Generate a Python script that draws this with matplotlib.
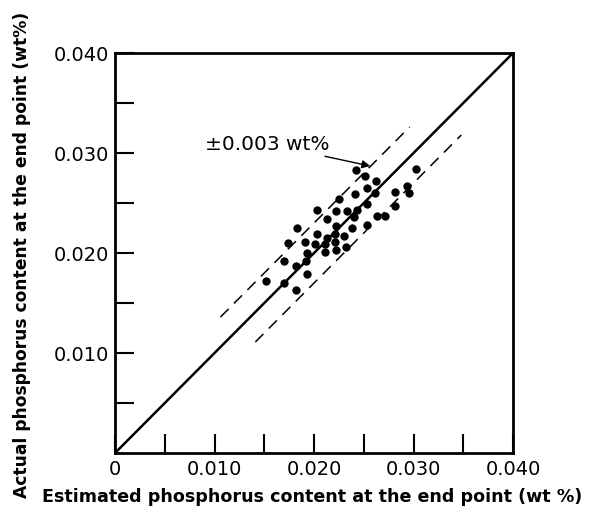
import matplotlib
matplotlib.use("Agg")
import matplotlib.pyplot as plt
import numpy as np

# Estimated (x) and actual (y) phosphorus content, wt%
estimated = [0.0242, 0.0251, 0.02625, 0.0302, 0.02535, 0.0241, 0.02615, 0.0225,
             0.0281, 0.0293, 0.0295, 0.02535, 0.0281, 0.0203, 0.0222, 0.0233,
             0.02435, 0.0240, 0.02135, 0.02635, 0.02715, 0.0222, 0.0238, 0.02535,
             0.01825, 0.0203, 0.02135, 0.0221, 0.0230, 0.0174, 0.0191, 0.02005,
             0.0211, 0.0221, 0.02325, 0.0211, 0.0222, 0.0193, 0.0170, 0.0192,
             0.0182, 0.0193, 0.0152, 0.0170, 0.0182]
actual = [0.0283, 0.0277, 0.0272, 0.0284, 0.0265, 0.0259, 0.0260, 0.0254,
          0.0261, 0.0267, 0.0260, 0.0249, 0.0247, 0.0243, 0.0242, 0.0242,
          0.0243, 0.0236, 0.0234, 0.0237, 0.0237, 0.0227, 0.0225, 0.0228,
          0.0225, 0.0219, 0.0215, 0.0219, 0.0217, 0.0210, 0.0211, 0.0209,
          0.0209, 0.0211, 0.0206, 0.0201, 0.0203, 0.0200, 0.0192, 0.0192,
          0.0187, 0.0179, 0.0172, 0.0170, 0.0163]

band = 0.003
upper_range = [0.0106, 0.0296]
lower_range = [0.0141, 0.0348]
x_ticks = [0, 0.010, 0.020, 0.030, 0.040]
x_tick_labels = ["0", "0.010", "0.020", "0.030", "0.040"]
y_ticks = [0.010, 0.020, 0.030, 0.040]
y_tick_labels = ["0.010", "0.020", "0.030", "0.040"]
minor_ticks = [0.005, 0.015, 0.025, 0.035]

fig = plt.figure(figsize=(5.92, 5.12), dpi=100)
ax = fig.add_axes([0.1943, 0.1152, 0.6723, 0.78125])

ax.plot([0, 0.04], [0, 0.04], color="black", lw=1.8, solid_capstyle="butt")
ux = np.array(upper_range)
ax.plot(ux, ux + band, color="black", lw=1.1, dashes=(7.5, 5))
lx = np.array(lower_range)
ax.plot(lx, lx - band, color="black", lw=1.1, dashes=(7.5, 5))
ax.scatter(estimated, actual, s=36, color="black", zorder=3, linewidths=0)

ax.annotate("±0.003 wt%", xy=(0.02565, 0.0287), xytext=(0.0216, 0.0309),
            ha="right", va="center", fontsize=14.5,
            arrowprops=dict(arrowstyle="-|>", color="black", lw=1.0,
                            mutation_scale=12, shrinkA=0, shrinkB=0))

ax.set_xlim(0, 0.04)
ax.set_ylim(0, 0.04)
ax.set_xticks(x_ticks)
ax.set_xticklabels(x_tick_labels)
ax.set_yticks(y_ticks)
ax.set_yticklabels(y_tick_labels)
ax.set_xticks(minor_ticks, minor=True)
ax.set_yticks(minor_ticks, minor=True)
ax.tick_params(which="both", direction="in", length=14, width=1.5,
               labelsize=14, top=False, right=False)
ax.tick_params(axis="x", pad=5)
ax.tick_params(axis="y", pad=4)
for s in ax.spines.values():
    s.set_linewidth(2)

fig.text(0.528, 0.029, "Estimated phosphorus content at the end point (wt %)",
         ha="center", va="center", fontsize=12.6, fontweight="bold")
fig.text(0.037, 0.502, "Actual phosphorus content at the end point (wt%)",
         ha="center", va="center", rotation=90, fontsize=12.3, fontweight="bold")

fig.savefig("out.png", dpi=100, facecolor="white")
